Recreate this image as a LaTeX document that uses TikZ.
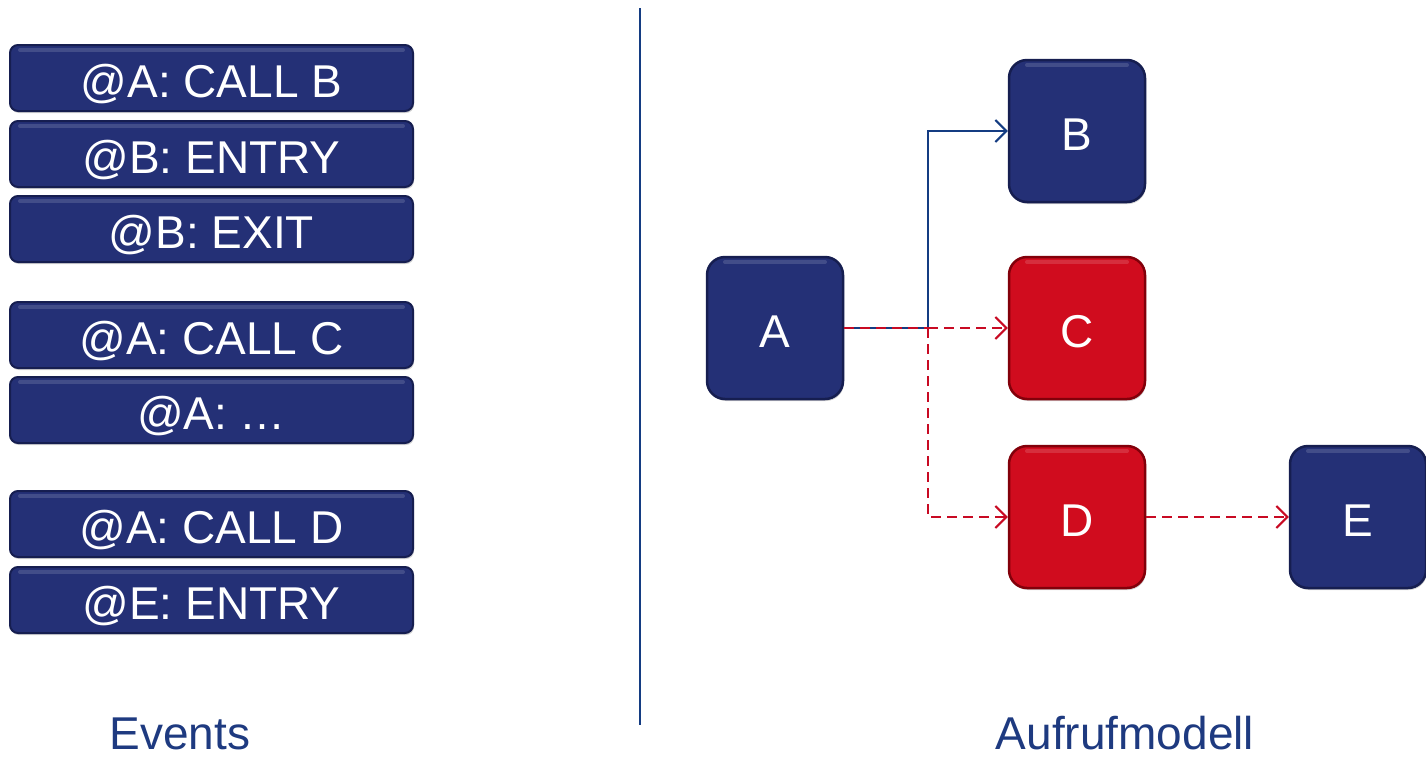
\documentclass[tikz,border=0pt]{standalone}
\usepackage{fontspec}
\setmainfont{Liberation Sans}
\usetikzlibrary{arrows.meta,shadows}
\definecolor{navy}{RGB}{36,48,118}
\definecolor{navydark}{RGB}{22,30,80}
\definecolor{boxred}{RGB}{208,12,30}
\definecolor{reddark}{RGB}{130,0,10}
\definecolor{linkblue}{RGB}{20,60,130}
\definecolor{linkred}{RGB}{200,10,35}
\definecolor{captionblue}{RGB}{30,58,128}
\tikzset{
  bigfont/.style={font=\fontsize{46}{52}\selectfont},
  % light band along the top edge of a box
  sheen/.style={path picture={
    \draw[white, opacity=0.14, line width=4pt, line cap=round]
      ([shift={(#1,-5pt)}]path picture bounding box.north west) --
      ([shift={(-#1,-5pt)}]path picture bounding box.north east);}},
  evbar/.style={rounded corners=8pt, minimum width=403pt, minimum height=66pt,
    fill=navy, draw=navydark, line width=2pt, text=white, bigfont,
    text height=39pt, text depth=0pt, inner sep=0pt, sheen=10pt,
    drop shadow={shadow xshift=1pt, shadow yshift=-2pt, opacity=0.35}},
  callbox/.style={rounded corners=18pt, minimum width=136pt, minimum height=142pt,
    fill=navy, draw=navydark, line width=2.5pt, text=white, bigfont,
    text height=38pt, text depth=0pt, inner sep=0pt, sheen=18pt,
    drop shadow={shadow xshift=1pt, shadow yshift=-2pt, opacity=0.35}},
  hotbox/.style={callbox, fill=boxred, draw=reddark},
  calllink/.style={draw=linkblue, line width=2pt, -{Straight Barb[length=11pt,width=22pt,line width=2pt]}},
  tracelink/.style={draw=linkred, line width=2pt, dash pattern=on 10pt off 6pt,
    -{Straight Barb[length=11pt,width=22pt,line width=2pt]}},
  caption/.style={text=captionblue, bigfont, inner sep=0pt, text depth=0pt, anchor=base}
}
\begin{document}
\begin{tikzpicture}[x=1pt,y=-1pt]
\useasboundingbox (0,0) rectangle (1426,761);

% event list
\node[evbar] (e1) at (211.5,78)  {@A: CALL B};
\node[evbar] (e2) at (211.5,154) {@B: ENTRY};
\node[evbar] (e3) at (211.5,229) {@B: EXIT};
\node[evbar] (e4) at (211.5,335) {@A: CALL C};
\node[evbar] (e5) at (211.5,410) {@A: …};
\node[evbar] (e6) at (211.5,524) {@A: CALL D};
\node[evbar] (e7) at (211.5,600) {@E: ENTRY};

% separator
\coordinate (sepTop) at (640,8);
\coordinate (sepBot) at (640,725);
\draw[linkblue, line width=2pt] (sepTop) -- (sepBot);

% call model
\node[callbox] (A) at (775,328) {A};
\node[callbox] (B) at (1077,131) {B};
\node[hotbox]  (C) at (1077,328) {C};
\node[hotbox]  (D) at (1077,517) {D};
\node[callbox] (E) at (1358,517) {E};

\coordinate (j) at (928,328);
\draw[calllink] (A.east) -- (j) |- (B.west);
\draw[tracelink, -] (A.east) -- (j);
\draw[tracelink] (j) -- (C.west);
\draw[tracelink] (j) |- (D.west);
\draw[tracelink] (D.east) -- (E.west);

% captions
\node[caption] (evcap) at (180,749) {Events};
\node[caption] (mcap) at (1125,749) {Aufrufmodell};
\end{tikzpicture}
\end{document}
